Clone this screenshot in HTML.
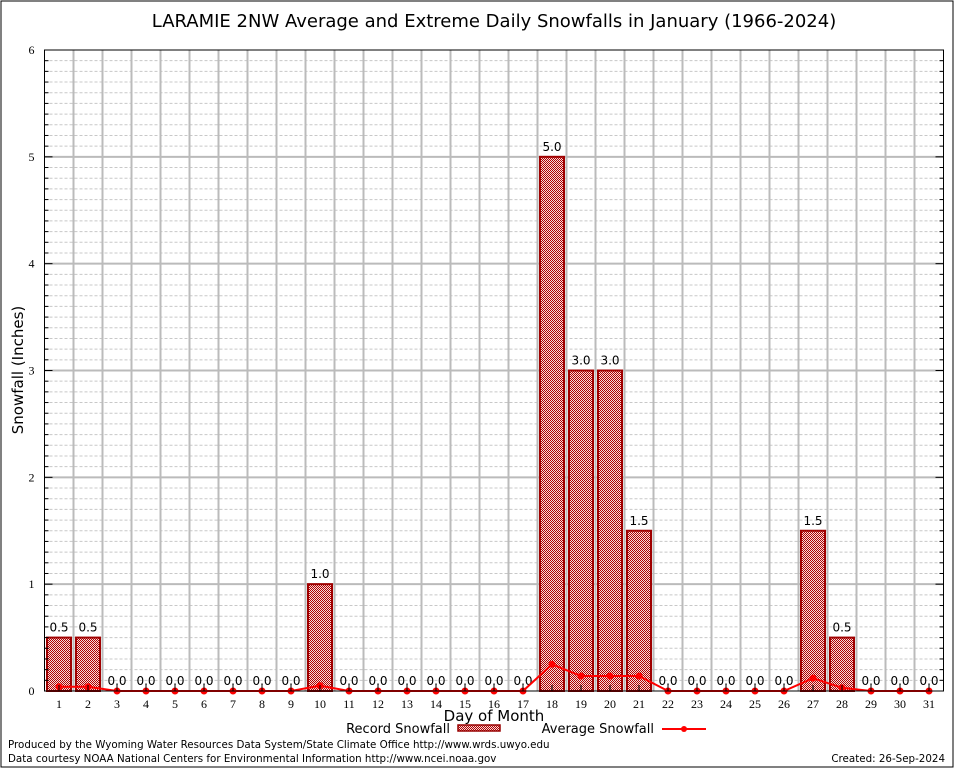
<!DOCTYPE html>
<html><head><meta charset="utf-8"><style>
body{margin:0;background:#fff;}
svg{display:block;font-family:"DejaVu Sans","Liberation Sans",sans-serif;}
</style></head><body>
<svg id="chart" width="954" height="768">
<defs>
<pattern id="chk" width="2" height="2" patternUnits="userSpaceOnUse">
<rect width="2" height="2" fill="#f6dcdc"/>
<rect width="1" height="1" fill="#b00000"/><rect x="1" y="1" width="1" height="1" fill="#b00000"/>
</pattern>
</defs>
<rect x="1" y="1" width="952" height="766" fill="none" stroke="#000" stroke-width="1"/>
<text x="494" y="27" font-size="18" text-anchor="middle">LARAMIE 2NW Average and Extreme Daily Snowfalls in January (1966-2024)</text>
<g id="grid"></g>
<g id="bars"></g>
<g id="line"></g>
<g id="axes"></g>
<text transform="translate(23,370) rotate(-90)" font-size="15" text-anchor="middle">Snowfall (Inches)</text>
<text x="494" y="721" font-size="15" text-anchor="middle">Day of Month</text>
<g>
<text x="450" y="733" font-size="13" text-anchor="end">Record Snowfall</text>
<rect x="458" y="725" width="42" height="6" fill="url(#chk)" stroke="#900" stroke-width="1.5"/>
</g>
<g>
<text x="654" y="733" font-size="13" text-anchor="end">Average Snowfall</text>
<line x1="662" y1="729" x2="706" y2="729" stroke="#f00" stroke-width="2"/>
<circle cx="684" cy="729" r="3" fill="#f00"/>
</g>
<text x="8" y="748" font-size="10.3">Produced by the Wyoming Water Resources Data System/State Climate Office http://www.wrds.uwyo.edu</text>
<text x="8" y="762" font-size="10.3">Data courtesy NOAA National Centers for Environmental Information http://www.ncei.noaa.gov</text>
<text x="945" y="762" font-size="10.3" text-anchor="end">Created: 26-Sep-2024</text>
</svg>
<script>
const days=[1,2,3,4,5,6,7,8,9,10,11,12,13,14,15,16,17,18,19,20,21,22,23,24,25,26,27,28,29,30,31];
const recordValues=[0.5,0.5,0,0,0,0,0,0,0,1.0,0,0,0,0,0,0,0,5.0,3.0,3.0,1.5,0,0,0,0,0,1.5,0.5,0,0,0];
const averageValues=[0.04,0.04,0,0,0,0,0,0,0,0.05,0,0,0,0,0,0,0,0.25,0.14,0.14,0.14,0,0,0,0,0,0.12,0.03,0,0,0];
const yTicks=[0,1,2,3,4,5,6];
const NS="http://www.w3.org/2000/svg";
const L=44.5,R=943.5,T=50,B=691,yMax=6;
const x=d=>L+(d-0.5)*(R-L)/31;
const y=v=>B-v*(B-T)/yMax;
function mk(tag,attrs,parent,txt){const e=document.createElementNS(NS,tag);for(const k in attrs)e.setAttribute(k,attrs[k]);if(txt!==undefined)e.textContent=txt;parent.appendChild(e);return e;}
const grid=document.getElementById('grid'),bars=document.getElementById('bars'),line=document.getElementById('line'),axes=document.getElementById('axes');
for(let i=1;i<yMax*10;i++){if(i%10===0)continue;const e=mk('line',{x1:L,x2:R,y1:y(i/10),y2:y(i/10),stroke:'#c8c8c8','stroke-dasharray':'3,2','stroke-width':1},grid);

}
for(let d=1;d<days.length;d++){const e=mk('line',{x1:x(d+0.5),x2:x(d+0.5),y1:T,y2:B,stroke:'#bbb','stroke-width':2},grid);

}
yTicks.forEach(t=>{if(t>0&&t<yMax){const e=mk('line',{x1:L,x2:R,y1:y(t),y2:y(t),stroke:'#bbb','stroke-width':2},grid);

}
const lb=mk('text',{x:L-10,y:y(t)+4,'font-size':12,'text-anchor':'end','font-family':'Liberation Serif, serif'},axes,String(t));


mk('line',{x1:L,x2:L+8,y1:y(t),y2:y(t),stroke:'#000'},axes);mk('line',{x1:R,x2:R-8,y1:y(t),y2:y(t),stroke:'#000'},axes);});
for(let i=1;i<yMax*10;i++){if(i%10===0)continue;mk('line',{x1:L,x2:L+4,y1:y(i/10),y2:y(i/10),stroke:'#000'},axes);mk('line',{x1:R,x2:R-4,y1:y(i/10),y2:y(i/10),stroke:'#000'},axes);}
days.forEach((d,i)=>{const v=recordValues[i];
if(v>0){const r=mk('rect',{x:x(d)-12,y:y(v),width:24,height:B-y(v),fill:'url(#chk)',stroke:'#a00000','stroke-width':2},bars);

}
const t=mk('text',{x:x(d),y:y(v)-6,'font-size':12,'text-anchor':'middle'},bars,v.toFixed(1));


const xl=mk('text',{x:x(d),y:B+17,'font-size':12,'text-anchor':'middle','font-family':'Liberation Serif, serif'},axes,String(d));


mk('line',{x1:x(d),x2:x(d),y1:B,y2:B-6,stroke:'#000'},axes);});
const pts=days.map((d,i)=>x(d)+','+y(averageValues[i])).join(' ');
const pl=mk('polyline',{points:pts,fill:'none',stroke:'#f00','stroke-width':2},line);


days.forEach((d,i)=>{const c=mk('circle',{cx:x(d),cy:y(averageValues[i]),r:3.5,fill:'#f00'},line);

});
const fr=mk('rect',{x:L,y:T,width:R-L,height:B-T,fill:'none',stroke:'#000','stroke-width':1},axes);


</script>
</body></html>
